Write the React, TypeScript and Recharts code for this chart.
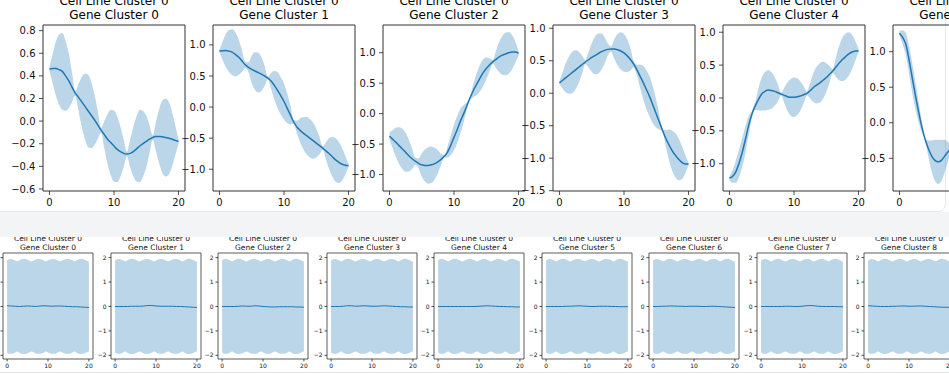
import React from "react";
import { ComposedChart, Area, Line, XAxis, YAxis, ReferenceArea } from "recharts";

const FONT = "'DejaVu Sans', sans-serif";
const BLUE = "#1f77b4";

const xs = [0, 0.5, 1, 1.5, 2, 2.5, 3, 3.5, 4, 4.5, 5, 5.5, 6, 6.5, 7, 7.5, 8, 8.5, 9, 9.5, 10, 10.5, 11, 11.5, 12, 12.5, 13, 13.5, 14, 14.5, 15, 15.5, 16, 16.5, 17, 17.5, 18, 18.5, 19, 19.5, 20];
const xTicks = [0, 10, 20];

// top row: cell line cluster 0, gene clusters 0..5 (mean and half width of the band)
const gc0Mean = [0.46, 0.465, 0.465, 0.455, 0.44, 0.4, 0.355, 0.3, 0.247, 0.21, 0.17, 0.13, 0.09, 0.05, 0.01, -0.035, -0.08, -0.12, -0.16, -0.19, -0.22, -0.25, -0.27, -0.285, -0.29, -0.285, -0.27, -0.245, -0.22, -0.2, -0.18, -0.16, -0.145, -0.137, -0.135, -0.138, -0.145, -0.152, -0.16, -0.17, -0.18];
const gc0Sd = [0.02, 0.13, 0.24, 0.31, 0.34, 0.31, 0.24, 0.13, 0.02, 0.12, 0.22, 0.29, 0.32, 0.29, 0.22, 0.12, 0.02, 0.12, 0.22, 0.29, 0.315, 0.29, 0.22, 0.12, 0.02, 0.12, 0.22, 0.29, 0.32, 0.29, 0.23, 0.125, 0.02, 0.13, 0.24, 0.32, 0.345, 0.32, 0.24, 0.13, 0.02];

const gc1Mean = [0.9, 0.905, 0.91, 0.9, 0.88, 0.845, 0.8, 0.74, 0.68, 0.64, 0.605, 0.58, 0.555, 0.53, 0.5, 0.465, 0.42, 0.35, 0.27, 0.18, 0.09, -0.02, -0.13, -0.24, -0.32, -0.375, -0.42, -0.46, -0.5, -0.54, -0.58, -0.62, -0.66, -0.705, -0.75, -0.8, -0.85, -0.89, -0.92, -0.935, -0.94];
const gc1Sd = [0.02, 0.15, 0.27, 0.34, 0.37, 0.35, 0.28, 0.17, 0.05, 0.08, 0.22, 0.3, 0.32, 0.27, 0.16, 0.02, 0.13, 0.23, 0.29, 0.3, 0.29, 0.24, 0.15, 0.03, 0.1, 0.19, 0.26, 0.3, 0.31, 0.29, 0.23, 0.14, 0.03, 0.14, 0.25, 0.32, 0.35, 0.33, 0.26, 0.15, 0.02];

const gc2Mean = [-0.37, -0.42, -0.47, -0.525, -0.58, -0.635, -0.69, -0.74, -0.78, -0.815, -0.84, -0.85, -0.85, -0.84, -0.82, -0.79, -0.75, -0.7, -0.63, -0.52, -0.39, -0.26, -0.12, 0.0, 0.13, 0.26, 0.38, 0.48, 0.58, 0.67, 0.74, 0.8, 0.85, 0.89, 0.93, 0.96, 0.98, 1.0, 1.01, 1.01, 0.99];
const gc2Sd = [0.06, 0.15, 0.24, 0.3, 0.33, 0.32, 0.26, 0.17, 0.06, 0.08, 0.19, 0.26, 0.3, 0.3, 0.26, 0.19, 0.09, 0.02, 0.09, 0.16, 0.21, 0.22, 0.2, 0.14, 0.06, 0.03, 0.11, 0.18, 0.22, 0.22, 0.18, 0.11, 0.03, 0.14, 0.25, 0.32, 0.35, 0.34, 0.28, 0.17, 0.04];

const gc3Mean = [0.16, 0.2, 0.24, 0.28, 0.32, 0.36, 0.4, 0.44, 0.48, 0.515, 0.55, 0.58, 0.61, 0.64, 0.66, 0.675, 0.68, 0.68, 0.67, 0.65, 0.62, 0.575, 0.52, 0.45, 0.36, 0.26, 0.16, 0.05, -0.06, -0.19, -0.32, -0.45, -0.58, -0.7, -0.8, -0.89, -0.96, -1.02, -1.07, -1.09, -1.09];
const gc3Sd = [0.02, 0.13, 0.23, 0.29, 0.32, 0.3, 0.24, 0.14, 0.03, 0.12, 0.22, 0.29, 0.31, 0.28, 0.2, 0.09, 0.04, 0.15, 0.24, 0.29, 0.29, 0.25, 0.17, 0.05, 0.08, 0.18, 0.26, 0.3, 0.31, 0.28, 0.21, 0.11, 0.02, 0.13, 0.24, 0.31, 0.34, 0.32, 0.25, 0.14, 0.02];

const gc4Mean = [-1.22, -1.19, -1.12, -0.99, -0.82, -0.62, -0.41, -0.24, -0.12, -0.02, 0.06, 0.1, 0.12, 0.115, 0.1, 0.08, 0.06, 0.04, 0.02, 0.01, 0.01, 0.02, 0.03, 0.05, 0.07, 0.11, 0.16, 0.195, 0.23, 0.27, 0.31, 0.36, 0.41, 0.47, 0.53, 0.585, 0.63, 0.67, 0.7, 0.715, 0.72];
const gc4Sd = [0.03, 0.1, 0.17, 0.21, 0.22, 0.2, 0.14, 0.05, 0.06, 0.17, 0.25, 0.29, 0.3, 0.28, 0.22, 0.13, 0.02, 0.12, 0.22, 0.28, 0.3, 0.28, 0.22, 0.13, 0.03, 0.12, 0.22, 0.28, 0.3, 0.28, 0.22, 0.13, 0.03, 0.15, 0.26, 0.33, 0.35, 0.33, 0.26, 0.15, 0.03];

// only the left part of this panel is visible
const gc5Mean = [1.26, 1.2, 1.1, 0.88, 0.62, 0.37, 0.14, -0.07, -0.24, -0.37, -0.47, -0.53, -0.55, -0.53, -0.47, -0.41, -0.35];
const gc5Sd = [0.03, 0.1, 0.16, 0.2, 0.21, 0.19, 0.14, 0.07, 0.02, 0.12, 0.22, 0.29, 0.31, 0.29, 0.23, 0.14, 0.04];

const ticksA = [-0.6, -0.4, -0.2, 0, 0.2, 0.4, 0.6, 0.8];
const ticksB = [-1, -0.5, 0, 0.5, 1];
const ticksC = [-1.5, -1, -0.5, 0, 0.5, 1];
const ticksD = [-0.5, 0, 0.5, 1];

// bottom row: flat prior, same band width for every gene cluster
const bottomSd = [1.88, 1.93, 1.94, 1.92, 1.88, 1.84, 1.89, 1.93, 1.95, 1.94, 1.91, 1.87, 1.84, 1.88, 1.92, 1.94, 1.94, 1.92, 1.88, 1.84, 1.88, 1.92, 1.94, 1.94, 1.91, 1.87, 1.84, 1.88, 1.92, 1.94, 1.94, 1.92, 1.88, 1.84, 1.89, 1.93, 1.95, 1.94, 1.91, 1.87, 1.84];
const b0Mean = [0.03, 0.02, 0.01, 0.0, 0.01, 0.02, 0.01, 0.0, 0.02, 0.03, 0.02, 0.01, 0.02, 0.02, 0.01, 0.0, -0.01, -0.01, -0.02, -0.03, -0.04];
const b1Mean = [0.0, 0.0, 0.0, 0.0, 0.01, 0.01, 0.01, 0.02, 0.04, 0.04, 0.02, 0.01, 0.01, 0.01, 0.01, 0.0, 0.0, -0.01, -0.02, -0.03, -0.04];
const b2Mean = [0.0, 0.0, 0.0, 0.0, 0.01, 0.02, 0.01, 0.01, 0.03, 0.02, 0.0, -0.01, -0.02, -0.02, -0.01, -0.01, -0.01, -0.01, -0.02, -0.02, -0.03];
const b3Mean = [0.0, 0.0, 0.0, 0.01, 0.03, 0.03, 0.01, 0.02, 0.03, 0.02, 0.01, 0.01, 0.02, 0.03, 0.02, 0.01, 0.0, -0.01, -0.01, -0.02, -0.02];
const b4Mean = [0.0, 0.0, 0.0, 0.0, 0.0, 0.0, 0.0, 0.0, 0.0, 0.0, 0.01, 0.02, 0.03, 0.02, 0.01, 0.0, 0.0, -0.01, -0.01, -0.02, -0.02];
const b5Mean = [0.0, 0.0, 0.0, 0.0, 0.0, 0.01, 0.01, 0.02, 0.03, 0.02, 0.01, 0.0, 0.0, 0.01, 0.01, 0.01, 0.0, 0.0, -0.01, -0.01, -0.01];
const b6Mean = [0.0, 0.0, 0.01, 0.01, 0.02, 0.02, 0.01, 0.01, 0.0, 0.01, 0.01, 0.01, 0.0, 0.0, 0.01, 0.01, 0.0, -0.01, -0.02, -0.03, -0.04];
const b7Mean = [0.0, 0.0, 0.0, 0.0, 0.0, 0.0, 0.01, 0.01, 0.0, 0.0, 0.01, 0.03, 0.04, 0.03, 0.01, 0.0, 0.0, 0.0, 0.0, -0.01, -0.01];
const b8Mean = [0.03, 0.02, 0.01, 0.0, 0.0, 0.0, 0.01, 0.01, 0.02, 0.02, 0.01, 0.01, 0.02, 0.02, 0.01, 0.0, -0.01, -0.02, -0.03, -0.03, -0.04];
const bottomTicks = [-2, -1, 0, 1, 2];

function topRows(mean: number[], sd: number[]) {
  return mean.map((m, i) => ({ x: xs[i], mean: m, band: [m - sd[i], m + sd[i]] }));
}

function bottomRows(mean: number[]) {
  return xs.map((x, i) => ({
    x,
    band: [-bottomSd[i], bottomSd[i]],
    mean: Number.isInteger(x) ? mean[x] : null,
  }));
}

const topPanels = [
  { gene: 0, rows: topRows(gc0Mean, gc0Sd), domain: [-0.618, 0.85], ticks: ticksA },
  { gene: 1, rows: topRows(gc1Mean, gc1Sd), domain: [-1.35, 1.32], ticks: ticksB },
  { gene: 2, rows: topRows(gc2Mean, gc2Sd), domain: [-1.27, 1.455], ticks: ticksB },
  { gene: 3, rows: topRows(gc3Mean, gc3Sd), domain: [-1.505, 1.05], ticks: ticksC },
  { gene: 4, rows: topRows(gc4Mean, gc4Sd), domain: [-1.415, 1.11], ticks: ticksB },
  { gene: 5, rows: topRows(gc5Mean, gc5Sd), domain: [-0.96, 1.375], ticks: ticksD },
];
const bottomMeans = [b0Mean, b1Mean, b2Mean, b3Mean, b4Mean, b5Mean, b6Mean, b7Mean, b8Mean];

type PanelProps = {
  left: number;
  top: number;
  w: number;
  h: number;
  yw: number;
  mt: number;
  xh: number;
  rows: any[];
  domain: number[];
  yTicks: number[];
  digits: number;
  font: number;
  tickSize: number;
  tickMargin: number;
  lineW: number;
  frameW: number;
};

function Panel(p: PanelProps) {
  const fmt = (v: number) => v.toFixed(p.digits).replace("-", "\u2212");
  const tick = { fontSize: p.font, fill: "#111", fontFamily: FONT };
  return (
    <div style={{ position: "absolute", left: p.left - p.yw, top: p.top - p.mt }}>
      <ComposedChart
        width={p.yw + p.w + 2}
        height={p.mt + p.h + p.xh}
        data={p.rows}
        margin={{ top: p.mt, right: 2, bottom: 0, left: 0 }}
      >
        <XAxis
          dataKey="x"
          type="number"
          domain={[-1, 21]}
          ticks={xTicks}
          interval={0}
          allowDataOverflow
          height={p.xh}
          axisLine={false}
          tickLine={{ stroke: "#222", strokeWidth: 0.8 }}
          tickSize={p.tickSize}
          tickMargin={p.tickMargin}
          tick={tick}
        />
        <YAxis
          type="number"
          domain={p.domain}
          ticks={p.yTicks}
          interval={0}
          allowDataOverflow
          width={p.yw}
          axisLine={false}
          tickLine={{ stroke: "#222", strokeWidth: 0.8 }}
          tickSize={p.tickSize}
          tickMargin={p.tickMargin}
          tick={tick}
          tickFormatter={fmt}
        />
        <Area
          dataKey="band"
          type="monotone"
          stroke="none"
          fill={BLUE}
          fillOpacity={0.3}
          dot={false}
          activeDot={false}
          isAnimationActive={false}
        />
        <Line
          dataKey="mean"
          type="monotone"
          stroke={BLUE}
          strokeWidth={p.lineW}
          dot={false}
          activeDot={false}
          connectNulls
          isAnimationActive={false}
        />
        <ReferenceArea
          x1={-1}
          x2={21}
          y1={p.domain[0]}
          y2={p.domain[1]}
          fill="none"
          stroke="#333"
          strokeWidth={p.frameW}
          ifOverflow="visible"
        />
      </ComposedChart>
    </div>
  );
}

const topLefts = [43, 213, 383, 553, 723, 893];
const bottomLefts = [3, 111, 218, 327, 434, 542, 649, 757, 864];

export default function App() {
  return (
    <div
      style={{
        position: "absolute",
        left: 0,
        top: 0,
        width: 949,
        height: 374,
        overflow: "hidden",
        background: "#fff",
        fontFamily: FONT,
      }}
    >
      {/* lower figure, scrolled under the band */}
      <div
        style={{
          position: "absolute",
          left: -20,
          top: 225,
          width: 990,
          height: 147,
          background: "#fff",
          borderBottom: "1px solid #e5e7eb",
        }}
      />
      {bottomMeans.map((m, i) => (
        <React.Fragment key={"b" + i}>
          <Panel
            left={bottomLefts[i]}
            top={253}
            w={90}
            h={106}
            yw={16}
            mt={4}
            xh={14}
            rows={bottomRows(m)}
            domain={[-2.15, 2.19]}
            yTicks={bottomTicks}
            digits={0}
            font={6}
            tickSize={2.5}
            tickMargin={1.8}
            lineW={1}
            frameW={0.8}
          />
          <div
            style={{
              position: "absolute",
              left: bottomLefts[i] - 20,
              width: 130,
              top: 234,
              fontSize: 7.5,
              lineHeight: "9px",
              textAlign: "center",
              color: "#111",
              whiteSpace: "nowrap",
            }}
          >
            <div>Cell Line Cluster 0</div>
            <div>Gene Cluster {i}</div>
          </div>
        </React.Fragment>
      ))}

      {/* grey gap between the two figures */}
      <div style={{ position: "absolute", left: 0, top: 212, width: 949, height: 25, background: "#f3f4f6" }} />

      {/* upper figure card */}
      <div
        style={{
          position: "absolute",
          left: -20,
          top: -20,
          width: 966,
          height: 232,
          background: "#fff",
          border: "1px solid #e5e7eb",
          borderRadius: 8,
          boxSizing: "border-box",
        }}
      />
      {topPanels.map((p, i) => (
        <React.Fragment key={"t" + i}>
          <Panel
            left={topLefts[i]}
            top={25}
            w={142}
            h={166}
            yw={45}
            mt={26}
            xh={25}
            rows={p.rows}
            domain={p.domain}
            yTicks={p.ticks}
            digits={1}
            font={10}
            tickSize={4}
            tickMargin={3.5}
            lineW={1.5}
            frameW={1}
          />
          <div
            style={{
              position: "absolute",
              left: topLefts[i] - 30,
              width: 202,
              top: -6,
              fontSize: 12,
              lineHeight: "14px",
              textAlign: "center",
              color: "#000",
              whiteSpace: "nowrap",
            }}
          >
            <div>Cell Line Cluster 0</div>
            <div>Gene Cluster {p.gene}</div>
          </div>
        </React.Fragment>
      ))}
    </div>
  );
}
